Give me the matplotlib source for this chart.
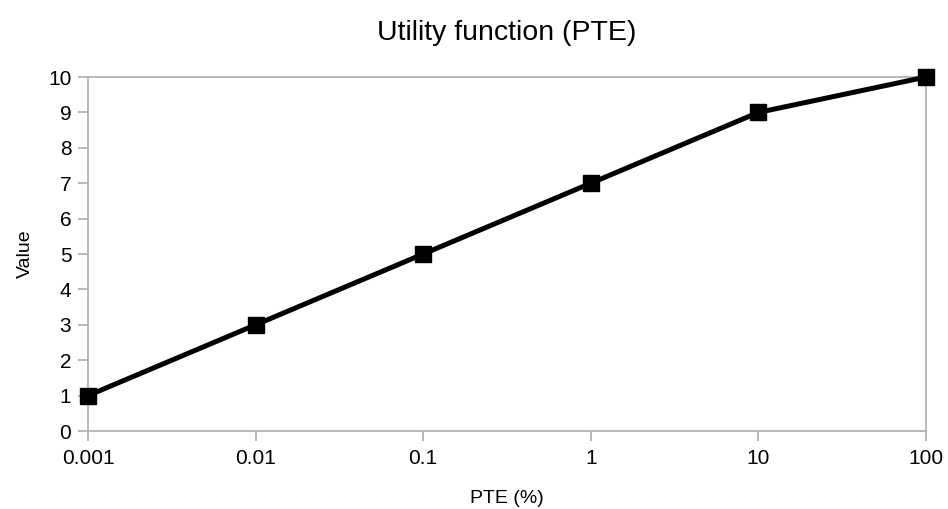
import matplotlib.pyplot as plt

pte = [0.001, 0.01, 0.1, 1, 10, 100]
value = [1, 3, 5, 7, 9, 10]
x_ticks = [0.001, 0.01, 0.1, 1, 10, 100]
x_labels = ["0.001", "0.01", "0.1", "1", "10", "100"]

plt.rcParams['font.family'] = ['Liberation Sans', 'DejaVu Sans']

fig = plt.figure(figsize=(9.48, 5.09), dpi=100)
ax = fig.add_axes([0.0928, 0.1532, 0.884, 0.6955])

ax.plot(pte, value, color='black', linewidth=3.6, marker='s', markersize=11.5,
        clip_on=False, zorder=3)

ax.set_xscale('log')
ax.set_xlim(0.001, 100)
ax.set_ylim(0, 10)
ax.set_xticks(x_ticks)
ax.set_xticklabels(x_labels)
ax.set_yticks(range(0, 11))
ax.minorticks_off()

for s in ax.spines.values():
    s.set_color('#b3b3b3')
    s.set_linewidth(1.3)
ax.tick_params(colors='#b3b3b3', labelcolor='black', labelsize=15,
               length=7, width=1.3)
ax.tick_params(axis='y', pad=5)
ax.tick_params(axis='x', pad=6)

ax.set_title('Utility function (PTE)', fontsize=20.5, pad=27)
ax.set_xlabel('PTE (%)', fontsize=14, labelpad=16)
ax.set_ylabel('Value', fontsize=14, labelpad=10)

fig.savefig('out.png', dpi=100)
